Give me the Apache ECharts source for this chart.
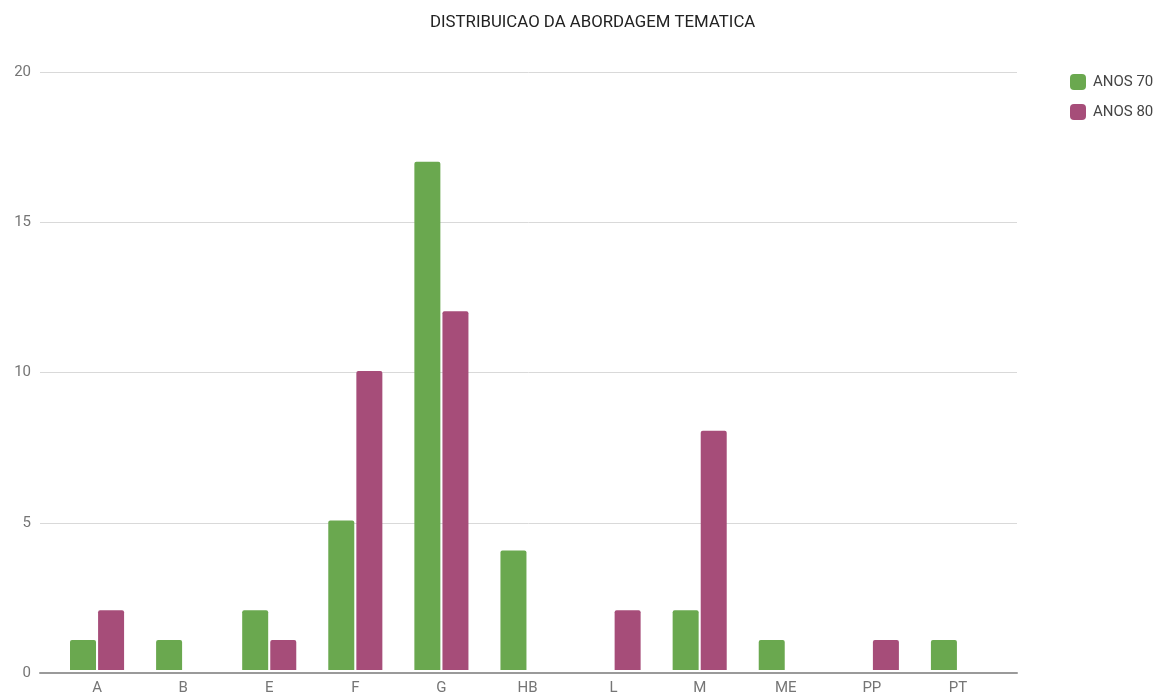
<!DOCTYPE html>
<html>
<head>
<meta charset="utf-8">
<script src="https://cdn.jsdelivr.net/npm/echarts@6/dist/echarts.min.js"></script>
<style>html,body{margin:0;padding:0;background:#fff;}#c{width:1157px;height:696px;}</style>
</head>
<body>
<div id="c"></div>
<script>
const categories = ['A', 'B', 'E', 'F', 'G', 'HB', 'L', 'M', 'ME', 'PP', 'PT'];
const anos70 = [1, 1, 2, 5, 17, 4, 0, 2, 1, 0, 1];
const anos80 = [2, 0, 1, 10, 12, 0, 2, 8, 0, 1, 0];
const yTicks = { min: 0, max: 20, interval: 5 };
const seriesNames = ['ANOS 70', 'ANOS 80'];
const colors = ['#6aa84f', '#a64d79'];

const chart = echarts.init(document.getElementById('c'));
const font = 'Roboto, "Noto Sans", sans-serif';
chart.setOption({
  animation: false,
  color: colors,
  title: {
    text: 'DISTRIBUICAO DA ABORDAGEM TEMATICA',
    left: 425, top: 9,
    textStyle: { fontFamily: font, fontSize: 16.8, fontWeight: 'normal', color: '#222' }
  },
  legend: {
    orient: 'vertical',
    left: 1065, top: 69,
    itemWidth: 16, itemHeight: 16, itemGap: 14,
    icon: 'roundRect',
    data: seriesNames,
    textStyle: { fontFamily: font, fontSize: 15, color: '#444', padding: [0, 0, 0, 2] }
  },
  grid: [
    { left: 40, right: 140, top: 72, bottom: 23 },
    { left: 54, right: 156, top: 72, bottom: 23 }
  ],
  xAxis: [
    { gridIndex: 0, type: 'value', min: 0, max: 1,
      axisLine: { show: true, onZero: false, lineStyle: { color: '#9a9a9a', width: 2 } },
      axisTick: { show: false }, axisLabel: { show: false }, splitLine: { show: false } },
    { gridIndex: 1, type: 'category', data: categories,
      axisLine: { show: false }, axisTick: { show: false },
      axisLabel: { margin: 11, fontFamily: font, fontSize: 15, color: '#757575' } }
  ],
  yAxis: [
    { gridIndex: 0, type: 'value', min: yTicks.min, max: yTicks.max, interval: yTicks.interval,
      axisLine: { show: false }, axisTick: { show: false },
      axisLabel: { margin: 9, fontFamily: font, fontSize: 15, color: '#757575' },
      splitLine: { lineStyle: { color: '#d9d9d9', width: 1 } } },
    { gridIndex: 1, type: 'value', min: yTicks.min, max: yTicks.max, interval: yTicks.interval, show: false }
  ],
  series: [
    { name: seriesNames[0], type: 'bar', xAxisIndex: 1, yAxisIndex: 1, data: anos70,
      barWidth: 26, barGap: '8%', itemStyle: { borderRadius: [2, 2, 0, 0] } },
    { name: seriesNames[1], type: 'bar', xAxisIndex: 1, yAxisIndex: 1, data: anos80,
      barWidth: 26, barGap: '8%', itemStyle: { borderRadius: [2, 2, 0, 0] } }
  ]
});
</script>
</body>
</html>
